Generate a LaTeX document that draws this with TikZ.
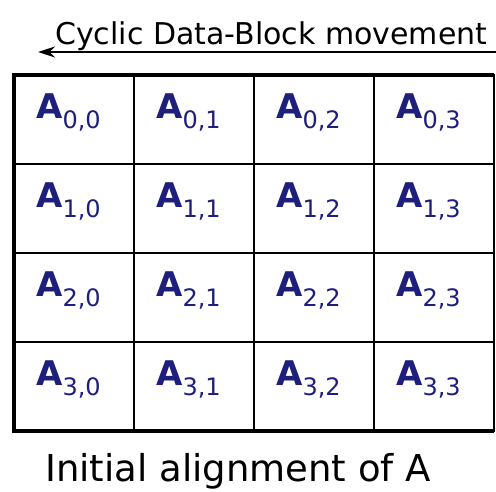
\documentclass[tikz,border=0pt]{standalone}
\usepackage{fontspec}
\setmainfont{DejaVu Sans}
\usetikzlibrary{arrows.meta,positioning,calc}
\definecolor{BlockNavy}{RGB}{30,30,125}
\newcommand{\blk}[2]{{\fontsize{34}{34}\selectfont\bfseries A}\raisebox{-10pt}{\fontsize{24}{24}\selectfont #1,#2}}
\tikzset{
  cell/.style={draw=black,line width=1.6pt,minimum width=120pt,
    minimum height=89pt,inner sep=0pt,outer sep=0pt},
  blocklabel/.style={anchor=base west,inner sep=0pt,text=BlockNavy},
  caption/.style={anchor=base west,inner sep=0pt},
  gridframe/.style={line width=3.6pt,line join=miter},
  movearrow/.style={-{Stealth[length=17pt,width=11pt]},line width=1.6pt}
}
\begin{document}
\begin{tikzpicture}[x=1pt,y=1pt]
  \useasboundingbox (0,0) rectangle (496,492);
  % the 4x4 blocks of A
  \foreach \r in {0,...,3}
    \foreach \c in {0,...,3} {
      \node[cell] (a-\r-\c) at (74+120*\c,372.5-89*\r) {};
      \node[blocklabel] (l-\r-\c) at ($(a-\r-\c.north west)+(22,-44)$) {\blk{\r}{\c}};
    }
  \draw[gridframe] (a-0-3.north east) -- (a-0-0.north west)
    -- (a-3-0.south west) -- (a-3-3.south east);
  % movement arrow
  \node[caption,font=\fontsize{30}{30}\selectfont] (movelabel) at (55,447) {Cyclic Data-Block movement};
  \coordinate (mvtail) at (496,440);
  \coordinate (mvhead) at (38,440);
  \draw[movearrow] (mvtail) -- (mvhead);
  \node[caption,font=\fontsize{37}{37}\selectfont] (alignlabel) at (45,10) {Initial alignment of A};
\end{tikzpicture}
\end{document}
